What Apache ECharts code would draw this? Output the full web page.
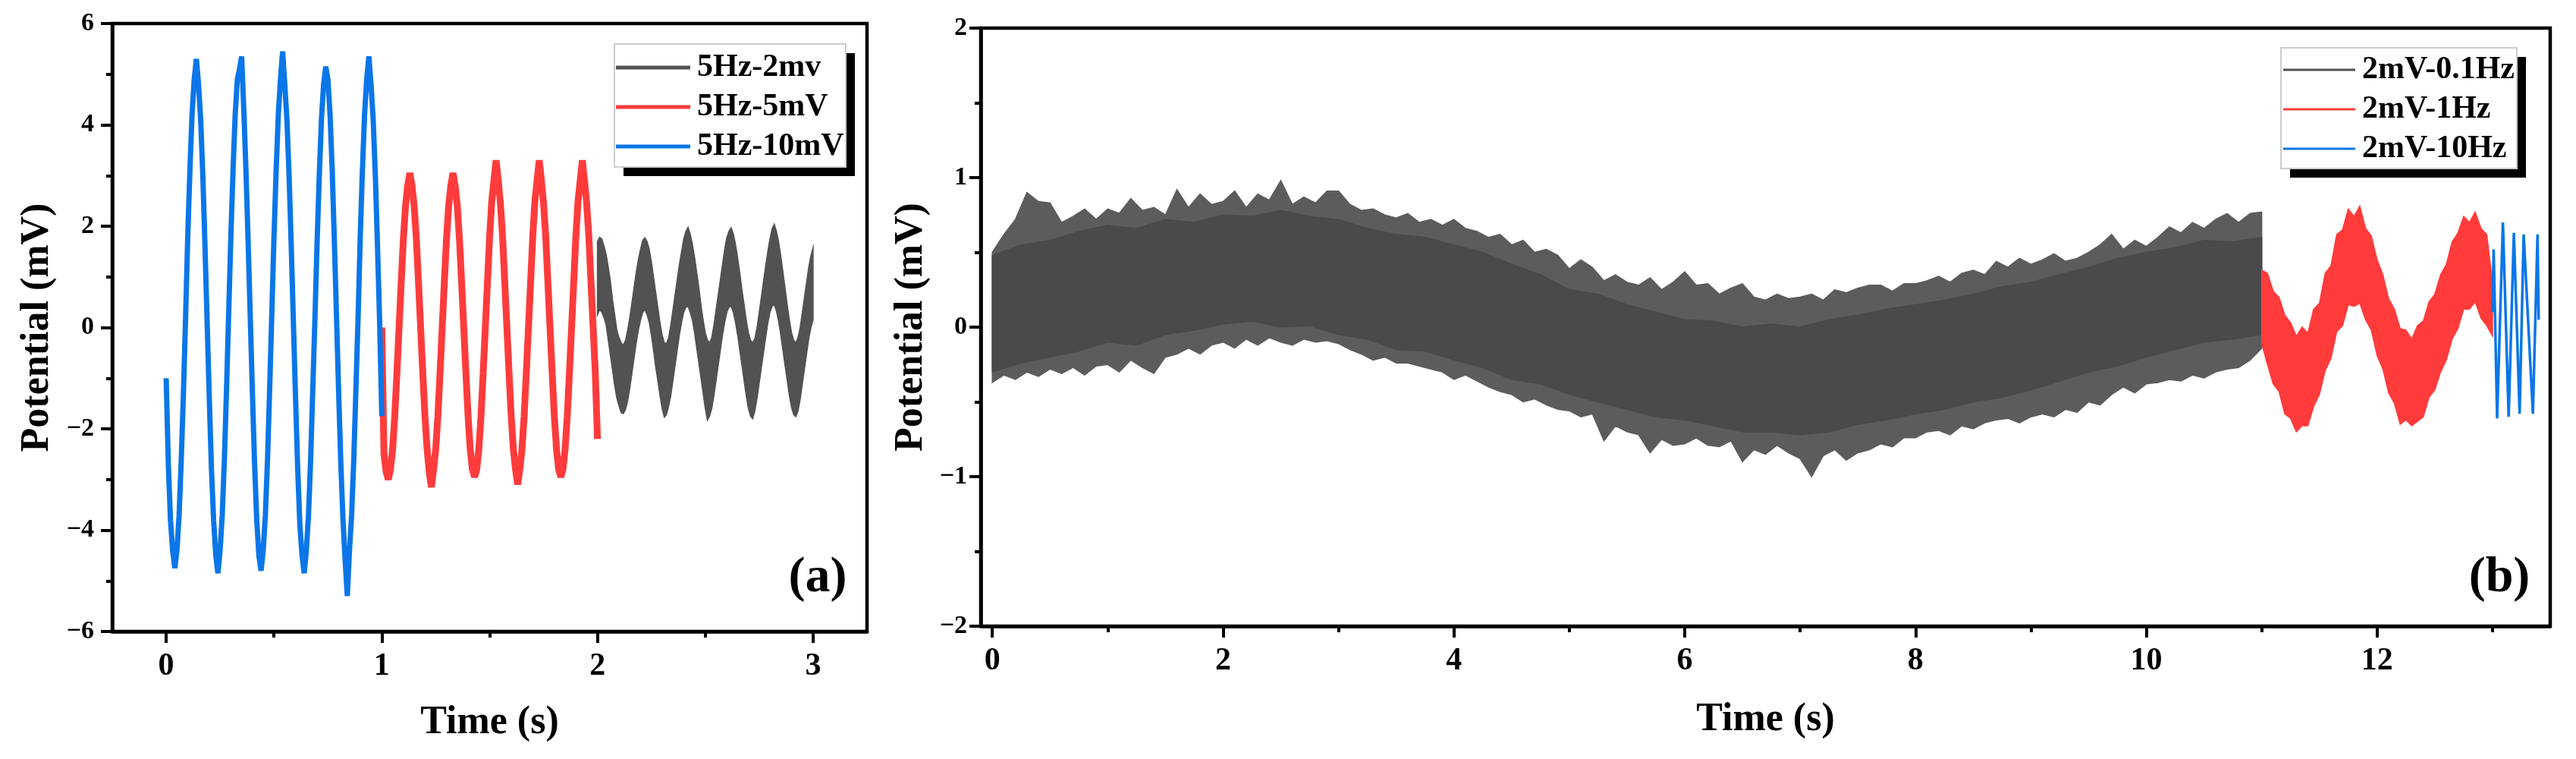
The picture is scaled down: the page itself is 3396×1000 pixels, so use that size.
<!DOCTYPE html>
<html>
<head>
<meta charset="utf-8">
<script src="https://cdn.jsdelivr.net/npm/echarts@6/dist/echarts.min.js"></script>
<style>
    html, body { margin: 0; padding: 0; background: #fff; }
    #chart { width: 3396px; height: 1000px; }
</style>
</head>
<body>
<div id="chart"></div>
<script>
// ---- panel (a): potential (mV), one sample every 0.01 s ----
const aStep = 0.01;
const aBlueStart = 0;
const aBlue = [
    -1.0, -2.7, -3.8, -4.4, -4.75, -4.4, -3.7, -2.6, -1.3, 0.2,
    1.8, 3.1, 4.2, 4.9, 5.3, 4.8, 4.1, 3.0, 1.6, 0.1,
    -1.4, -2.8, -3.8, -4.5, -4.85, -4.4, -3.7, -2.6, -1.2, 0.3,
    1.8, 3.1, 4.2, 4.9, 5.1, 5.35, 4.3, 3.1, 1.7, 0.2,
    -1.3, -2.7, -3.8, -4.5, -4.8, -4.4, -3.7, -2.6, -1.2, 0.3,
    1.8, 3.1, 4.2, 4.9, 5.45, 4.8, 4.1, 3.0, 1.6, 0.1,
    -1.4, -2.8, -3.9, -4.5, -4.85, -4.4, -3.7, -2.6, -1.2, 0.2,
    1.7, 3.0, 4.1, 4.8, 5.15, 4.9, 4.2, 3.1, 1.7, 0.2,
    -1.3, -2.7, -3.8, -4.6, -5.3, -4.4, -3.7, -2.6, -1.2, 0.2,
    1.8, 3.1, 4.2, 4.9, 5.35, 4.8, 4.1, 3.0, 1.6, 0.1,
    -1.75
];
const aRedStart = 1;
const aRed = [
    0.0, -2.5, -2.85, -3.0, -2.8, -2.4, -1.75, -0.9, 0.0, 0.9,
    1.75, 2.4, 2.8, 3.05, 2.8, 2.4, 1.75, 0.9, 0.0, -0.9,
    -1.75, -2.4, -2.85, -3.15, -2.8, -2.4, -1.75, -0.9, 0.0, 0.9,
    1.75, 2.4, 2.8, 3.05, 2.8, 2.4, 1.75, 0.9, 0.0, -0.9,
    -1.75, -2.4, -2.8, -2.95, -2.8, -2.4, -1.75, -0.9, 0.0, 0.9,
    1.8, 2.5, 2.9, 3.3, 2.9, 2.45, 1.8, 0.9, 0.0, -0.9,
    -1.75, -2.4, -2.8, -3.1, -2.8, -2.4, -1.75, -0.9, 0.0, 0.9,
    1.8, 2.5, 2.9, 3.3, 2.9, 2.45, 1.8, 0.9, 0.0, -0.9,
    -1.75, -2.4, -2.8, -2.95, -2.8, -2.4, -1.75, -0.9, 0.0, 0.9,
    1.8, 2.5, 2.9, 3.3, 2.9, 2.45, 1.8, 0.9, 0.0, -0.9,
    -2.2
];
// the 2 mV trace is a noisy band: upper and lower edge
const aGrayStart = 2;
const aGrayUp = [
    1.70, 1.78, 1.75, 1.62, 1.45, 1.20, 0.92, 0.55, 0.25, -0.05,
    -0.20, -0.30, -0.35, -0.25, -0.05, 0.20, 0.50, 0.80, 1.10, 1.35,
    1.55, 1.72, 1.77, 1.70, 1.55, 1.30, 1.00, 0.70, 0.40, 0.10,
    -0.15, -0.30, -0.32, -0.20, 0.05, 0.35, 0.65, 0.95, 1.25, 1.50,
    1.75, 1.90, 1.98, 1.85, 1.65, 1.40, 1.10, 0.80, 0.45, 0.15,
    -0.10, -0.25, -0.30, -0.20, 0.05, 0.35, 0.65, 0.95, 1.25, 1.55,
    1.78, 1.90, 1.97, 1.85, 1.65, 1.38, 1.08, 0.75, 0.45, 0.15,
    -0.10, -0.25, -0.30, -0.22, 0.00, 0.30, 0.60, 0.92, 1.22, 1.50,
    1.75, 1.95, 2.04, 1.90, 1.70, 1.42, 1.10, 0.78, 0.45, 0.15,
    -0.10, -0.25, -0.30, -0.20, 0.00, 0.30, 0.60, 0.90, 1.20, 1.42,
    1.58
];
const aGrayLo = [
    0.25, 0.35, 0.30, 0.20, 0.05, -0.25, -0.55, -0.85, -1.15, -1.40,
    -1.55, -1.68, -1.70, -1.62, -1.45, -1.20, -0.90, -0.60, -0.30, -0.05,
    0.15, 0.30, 0.35, 0.25, 0.10, -0.15, -0.45, -0.78, -1.05, -1.35,
    -1.60, -1.77, -1.72, -1.55, -1.35, -1.05, -0.75, -0.45, -0.15, 0.10,
    0.30, 0.40, 0.42, 0.30, 0.15, -0.10, -0.40, -0.70, -1.00, -1.30,
    -1.60, -1.83, -1.75, -1.60, -1.35, -1.05, -0.75, -0.45, -0.15, 0.10,
    0.30, 0.40, 0.42, 0.30, 0.10, -0.15, -0.45, -0.75, -1.05, -1.35,
    -1.60, -1.75, -1.80, -1.65, -1.40, -1.10, -0.80, -0.50, -0.20, 0.08,
    0.30, 0.42, 0.45, 0.32, 0.12, -0.15, -0.45, -0.75, -1.05, -1.35,
    -1.58, -1.72, -1.76, -1.65, -1.42, -1.12, -0.82, -0.52, -0.22, 0.00,
    0.15
];

// ---- panel (b) ----
// 0.1 Hz trace: solid core edges every 0.25 s, spike edges every 0.1 s
const bCoreStart = 0, bCoreStep = 0.25;
const bGrayCoreUp = [
    0.48, 0.55, 0.58, 0.64, 0.68, 0.66, 0.72, 0.70, 0.75, 0.74, 0.78, 0.74,
    0.72, 0.66, 0.62, 0.60, 0.55, 0.50, 0.42, 0.35, 0.25, 0.22, 0.15, 0.10,
    0.05, 0.04, 0.00, 0.02, 0.00, 0.05, 0.08, 0.12, 0.15, 0.18, 0.22, 0.27,
    0.30, 0.35, 0.40, 0.46, 0.50, 0.53, 0.58, 0.57, 0.60
];
const bGrayCoreLo = [
    -0.30, -0.24, -0.20, -0.16, -0.10, -0.12, -0.05, -0.02, 0.02, 0.04, 0.00, 0.01,
    -0.05, -0.08, -0.15, -0.16, -0.22, -0.27, -0.35, -0.38, -0.45, -0.50, -0.55, -0.60,
    -0.62, -0.66, -0.70, -0.70, -0.72, -0.70, -0.65, -0.62, -0.58, -0.55, -0.50, -0.47,
    -0.42, -0.36, -0.30, -0.26, -0.20, -0.15, -0.10, -0.08, -0.05
];
const bSpikeStart = 0, bSpikeStep = 0.1;
const bGrayUp = [
    0.50, 0.62, 0.72, 0.90, 0.84, 0.83, 0.70, 0.74, 0.79, 0.72,
    0.79, 0.76, 0.86, 0.78, 0.80, 0.75, 0.92, 0.80, 0.89, 0.82,
    0.84, 0.91, 0.80, 0.89, 0.85, 0.98, 0.82, 0.87, 0.83, 0.91,
    0.91, 0.82, 0.78, 0.79, 0.75, 0.73, 0.76, 0.70, 0.72, 0.68,
    0.72, 0.66, 0.64, 0.60, 0.62, 0.55, 0.58, 0.50, 0.52, 0.48,
    0.39, 0.45, 0.40, 0.31, 0.35, 0.30, 0.28, 0.33, 0.25, 0.30,
    0.37, 0.28, 0.29, 0.22, 0.26, 0.29, 0.20, 0.18, 0.22, 0.19,
    0.20, 0.22, 0.18, 0.25, 0.23, 0.26, 0.28, 0.28, 0.24, 0.29,
    0.29, 0.31, 0.34, 0.30, 0.36, 0.38, 0.35, 0.44, 0.40, 0.46,
    0.42, 0.45, 0.49, 0.44, 0.46, 0.50, 0.55, 0.62, 0.52, 0.58,
    0.54, 0.60, 0.67, 0.63, 0.70, 0.66, 0.72, 0.76, 0.70, 0.76,
    0.77
];
const bGrayLo = [
    -0.37, -0.32, -0.35, -0.30, -0.33, -0.28, -0.31, -0.27, -0.32, -0.26,
    -0.25, -0.30, -0.22, -0.27, -0.31, -0.20, -0.18, -0.14, -0.18, -0.12,
    -0.10, -0.14, -0.08, -0.12, -0.07, -0.10, -0.12, -0.08, -0.10, -0.09,
    -0.11, -0.15, -0.18, -0.22, -0.20, -0.24, -0.24, -0.26, -0.28, -0.30,
    -0.35, -0.32, -0.36, -0.40, -0.43, -0.45, -0.50, -0.48, -0.52, -0.55,
    -0.56, -0.60, -0.58, -0.76, -0.66, -0.70, -0.72, -0.84, -0.75, -0.79,
    -0.78, -0.74, -0.79, -0.80, -0.76, -0.90, -0.82, -0.85, -0.79, -0.84,
    -0.88, -1.00, -0.86, -0.82, -0.89, -0.84, -0.82, -0.78, -0.80, -0.74,
    -0.74, -0.70, -0.69, -0.72, -0.66, -0.68, -0.64, -0.62, -0.61, -0.64,
    -0.60, -0.58, -0.60, -0.55, -0.57, -0.50, -0.52, -0.45, -0.40, -0.44,
    -0.38, -0.37, -0.35, -0.36, -0.32, -0.34, -0.30, -0.28, -0.27, -0.22,
    -0.14
];
// 1 Hz trace, edges every 0.05 s
const bRedStart = 11, bRedStep = 0.05;
const bRedUp = [0.38, 0.36, 0.24, 0.20, 0.08, 0.03, -0.06, 0.00, -0.04, 0.12,
    0.16, 0.36, 0.41, 0.62, 0.65, 0.79, 0.74, 0.81, 0.66, 0.61,
    0.45, 0.35, 0.19, 0.12, -0.01, -0.02, -0.08, 0.01, 0.04, 0.17,
    0.22, 0.35, 0.42, 0.57, 0.63, 0.74, 0.70, 0.77, 0.66, 0.62, 0.30];
const bRedLo = [-0.11, -0.25, -0.38, -0.43, -0.58, -0.61, -0.70, -0.66, -0.66, -0.53,
    -0.45, -0.29, -0.21, -0.03, 0.01, 0.15, 0.14, 0.16, 0.05, -0.02,
    -0.19, -0.28, -0.44, -0.51, -0.65, -0.62, -0.66, -0.63, -0.60, -0.47,
    -0.42, -0.30, -0.22, -0.08, -0.01, 0.12, 0.12, 0.17, 0.06, 0.01, -0.06];
// 10 Hz trace, turning points
const bBlueT = [13.00, 13.01, 13.04, 13.09, 13.14, 13.185, 13.235, 13.27, 13.35, 13.39, 13.40];
const bBlueV = [0.10, 0.52, -0.61, 0.70, -0.60, 0.63, -0.58, 0.62, -0.58, 0.62, 0.05];

// ---- ticks and names ----
const aTicksX = [0, 1, 2, 3];
const aMinorX = [0.5, 1.5, 2.5];
const bTicksX = [0, 2, 4, 6, 8, 10, 12];
const bMinorX = [1, 3, 5, 7, 9, 11, 13];
const aNames = ['5Hz-2mv', '5Hz-5mV', '5Hz-10mV'];
const bNames = ['2mV-0.1Hz', '2mV-1Hz', '2mV-10Hz'];

const GRAY = '#525252';
const RED = '#ff3b3b';
const BLUE = '#0b76e8';
const FONT = '"Liberation Serif", "Times New Roman", serif';

function times(start, step, n) {
    const t = [];
    for (let i = 0; i < n; i++) {
        t.push(+(start + i * step).toFixed(4));
    }
    return t;
}

function pairs(ts, vs) {
    return ts.map(function (t, i) { return [t, vs[i]]; });
}

function band(name, ax, ts, up, lo, color, z) {
    return {
        name: name,
        type: 'custom',
        xAxisIndex: ax[0],
        yAxisIndex: ax[1],
        z: z,
        silent: true,
        itemStyle: { color: color },
        data: [[ts[0], up[0]]],
        renderItem: function (params, api) {
            const pts = [];
            for (let i = 0; i < ts.length; i++) pts.push(api.coord([ts[i], up[i]]));
            for (let i = ts.length - 1; i >= 0; i--) pts.push(api.coord([ts[i], lo[i]]));
            return {
                type: 'polygon',
                shape: { points: pts },
                style: { fill: color, stroke: color, lineWidth: 1.5 }
            };
        }
    };
}

function trace(name, ax, data, color, width) {
    return {
        name: name,
        type: 'line',
        xAxisIndex: ax[0],
        yAxisIndex: ax[1],
        data: data,
        symbol: 'none',
        showSymbol: false,
        silent: true,
        z: 3,
        itemStyle: { color: color },
        lineStyle: { color: color, width: width, join: 'bevel' }
    };
}

function label(v) {
    return String(v).replace('-', '\u2212');
}

const textBold = { fontFamily: FONT, fontWeight: 'bold', color: '#000' };
const black = { color: '#000', width: 4 };

function timeAxis(grid, min, max, ticks, gap) {
    return {
        gridIndex: grid, type: 'value', min: min, max: max,
        name: 'Time (s)', nameLocation: 'middle', nameGap: gap,
        nameTextStyle: Object.assign({ fontSize: 52 }, textBold),
        axisLine: { onZero: false, lineStyle: { color: '#000', width: 4.5 } },
        axisTick: { show: true, customValues: ticks, length: 15, lineStyle: black },
        axisLabel: Object.assign({ customValues: ticks, margin: 25, fontSize: 42, formatter: label }, textBold),
        splitLine: { show: false }
    };
}

// second bottom axis in the same grid, only for the short half-step ticks
function minorAxis(grid, min, max, ticks) {
    return {
        gridIndex: grid, type: 'value', min: min, max: max, position: 'bottom',
        axisLine: { show: true, onZero: false, lineStyle: { color: 'rgba(0,0,0,0)', width: 1 } },
        axisTick: { show: true, customValues: ticks, length: 8, lineStyle: black },
        axisLabel: { show: false },
        splitLine: { show: false }
    };
}

function potAxis(grid, min, max, interval, gap, margin) {
    return {
        gridIndex: grid, type: 'value', min: min, max: max, interval: interval,
        name: 'Potential (mV)', nameLocation: 'middle', nameGap: gap,
        nameTextStyle: Object.assign({ fontSize: 52 }, textBold),
        axisLine: { onZero: false, lineStyle: { color: '#000', width: 4.5 } },
        axisTick: { show: true, length: 15, lineStyle: black },
        minorTick: { show: true, splitNumber: 2, length: 8, lineStyle: black },
        axisLabel: Object.assign({ margin: margin, fontSize: 34, formatter: label }, textBold),
        splitLine: { show: false },
        minorSplitLine: { show: false }
    };
}

function legendList(names, colors, left, top, iconW, lineH, pad) {
    return {
        data: names.map(function (n, i) {
            return { name: n, icon: 'rect', itemStyle: { color: colors[i], borderWidth: 0 } };
        }),
        orient: 'vertical',
        left: left, top: top,
        itemWidth: iconW, itemHeight: lineH, itemGap: 10,
        padding: pad,
        selectedMode: false,
        backgroundColor: 'transparent',
        borderWidth: 0,
        z: 6,
        textStyle: Object.assign({ fontSize: 42, padding: [0, 0, 0, 4] }, textBold)
    };
}

// legend frame: pale border with a solid black drop shadow
function frame(x, y, w, h) {
    return [
        { type: 'rect', z: 4, silent: true, shape: { x: x + 12, y: y + 12, width: w, height: h }, style: { fill: '#000' } },
        { type: 'rect', z: 5, silent: true, shape: { x: x, y: y, width: w, height: h }, style: { fill: '#fff', stroke: '#cccccc', lineWidth: 2 } }
    ];
}

function panelTag(text, x, y) {
    return {
        type: 'text', z: 6, x: x, y: y, silent: true,
        style: { text: text, font: 'bold 66px ' + FONT, fill: '#000', textAlign: 'center', textVerticalAlign: 'middle' }
    };
}

const aT = times(aBlueStart, aStep, aBlue.length);
const aTr = times(aRedStart, aStep, aRed.length);
const aTg = times(aGrayStart, aStep, aGrayUp.length);
const bTc = times(bCoreStart, bCoreStep, bGrayCoreUp.length);
const bTs = times(bSpikeStart, bSpikeStep, bGrayUp.length);
const bTr = times(bRedStart, bRedStep, bRedUp.length);

const chart = echarts.init(document.getElementById('chart'));

chart.setOption({
    animation: false,
    backgroundColor: '#fff',
    grid: [
        { left: 148, top: 31, width: 995, height: 801, show: true, borderColor: '#000', borderWidth: 4.5, backgroundColor: 'transparent' },
        { left: 1293, top: 37, width: 2069, height: 788, show: true, borderColor: '#000', borderWidth: 4.5, backgroundColor: 'transparent' }
    ],
    xAxis: [
        timeAxis(0, -0.25, 3.25, aTicksX, 95),
        minorAxis(0, -0.25, 3.25, aMinorX),
        timeAxis(1, -0.1, 13.5, bTicksX, 98),
        minorAxis(1, -0.1, 13.5, bMinorX)
    ],
    yAxis: [
        potAxis(0, -6, 6, 2, 72, 24),
        potAxis(1, -2, 2, 1, 58, 18)
    ],
    legend: [
        legendList(aNames, [GRAY, RED, BLUE], 810, 58, 98, 5, [10, 10, 8, 2]),
        legendList(bNames, [GRAY, RED, BLUE], 3007, 63, 95, 3, [8, 6, 7, 3])
    ],
    graphic: frame(810, 58, 305, 162)
        .concat(frame(3007, 63, 311, 159))
        .concat([panelTag('(a)', 1078, 762), panelTag('(b)', 3295, 762)]),
    series: [
        band(aNames[0], [0, 0], aTg, aGrayUp, aGrayLo, GRAY, 2),
        trace(aNames[1], [0, 0], pairs(aTr, aRed), RED, 9),
        trace(aNames[2], [0, 0], pairs(aT, aBlue), BLUE, 7),
        band(bNames[0], [2, 1], bTs, bGrayUp, bGrayLo, '#5c5c5c', 2),
        band(bNames[0], [2, 1], bTc, bGrayCoreUp, bGrayCoreLo, '#4a4a4a', 2),
        band(bNames[1], [2, 1], bTr, bRedUp, bRedLo, RED, 2),
        trace(bNames[2], [2, 1], pairs(bBlueT, bBlueV), BLUE, 3.5)
    ]
});

window.addEventListener('resize', function () {
    chart.resize();
});
</script>
</body>
</html>
